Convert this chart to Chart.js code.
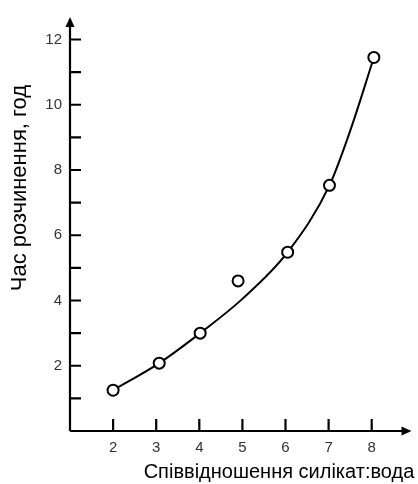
<!DOCTYPE html>
<html>
<head>
<meta charset="utf-8">
<script src="https://cdn.jsdelivr.net/npm/chart.js@4/dist/chart.umd.min.js"></script>
<style>
html,body{margin:0;padding:0;background:#fff;}
#c{display:block;}
</style>
</head>
<body>
<canvas id="c" width="418" height="484"></canvas>
<script>
// Data
const pointX = [2, 3.07, 4.02, 4.9, 6.05, 7.02, 8.05];
const pointY = [1.25, 2.08, 3.0, 4.6, 5.48, 7.53, 11.45];
const curveX = [2, 3.07, 4.02, 5, 6.05, 7.02, 7.5, 8.05];
const curveY = [1.25, 2.08, 3.0, 4.05, 5.48, 7.53, 9.2, 11.45];
const xTickLabels = [2, 3, 4, 5, 6, 7, 8];
const yTickLabels = [2, 4, 6, 8, 10, 12];
const yMinorTicks = [1, 2, 3, 4, 5, 6, 7, 8, 9, 10, 11, 12];
const xTitle = 'Співвідношення силікат:вода';
const yTitle = 'Час розчинення, год';

const toXY = (xs, ys) => xs.map((x, i) => ({x: x, y: ys[i]}));

const axisPlugin = {
  id: 'axisDeco',
  afterDraw(chart) {
    const ctx = chart.ctx;
    const xs = chart.scales.x, ys = chart.scales.y;
    const a = chart.chartArea;
    const x0 = xs.getPixelForValue(1);
    const y0 = ys.getPixelForValue(0);
    ctx.save();
    ctx.strokeStyle = '#000';
    ctx.fillStyle = '#000';
    ctx.lineWidth = 2.2;
    // axis lines
    ctx.beginPath();
    ctx.moveTo(x0, y0);
    ctx.lineTo(x0, a.top + 6);
    ctx.moveTo(x0, y0);
    ctx.lineTo(a.right - 6, y0);
    ctx.stroke();
    // ticks (inside)
    ctx.beginPath();
    yMinorTicks.forEach(v => {
      const p = ys.getPixelForValue(v);
      ctx.moveTo(x0, p);
      ctx.lineTo(x0 + 11, p);
    });
    xTickLabels.forEach(v => {
      const p = xs.getPixelForValue(v);
      ctx.moveTo(p, y0);
      ctx.lineTo(p, y0 - 12);
    });
    ctx.stroke();
    // arrows
    ctx.beginPath();
    ctx.moveTo(x0, a.top);
    ctx.lineTo(x0 - 4.5, a.top + 10);
    ctx.lineTo(x0 + 4.5, a.top + 10);
    ctx.closePath();
    ctx.fill();
    ctx.beginPath();
    ctx.moveTo(a.right + 1, y0);
    ctx.lineTo(a.right - 9, y0 - 4.5);
    ctx.lineTo(a.right - 9, y0 + 4.5);
    ctx.closePath();
    ctx.fill();
    // titles
    ctx.fillStyle = '#000';
    ctx.textAlign = 'center';
    ctx.textBaseline = 'alphabetic';
    ctx.font = '20px "Liberation Sans", Arial, sans-serif';
    ctx.fillText(xTitle, 279, 478);
    ctx.font = '22px "Liberation Sans", Arial, sans-serif';
    ctx.translate(26, 188);
    ctx.rotate(-Math.PI / 2);
    ctx.fillText(yTitle, 0, 0);
    ctx.restore();
  }
};

new Chart(document.getElementById('c'), {
  type: 'scatter',
  data: {
    datasets: [
      {
        type: 'line',
        data: toXY(curveX, curveY),
        borderColor: '#000',
        borderWidth: 2,
        pointRadius: 0,
        fill: false,
        cubicInterpolationMode: 'monotone',
        order: 2
      },
      {
        data: toXY(pointX, pointY),
        backgroundColor: '#fff',
        borderColor: '#000',
        borderWidth: 2,
        pointRadius: 5.5,
        order: 1
      }
    ]
  },
  options: {
    responsive: false,
    animation: false,
    events: [],
    layout: {padding: {left: 0, right: 6, top: 10, bottom: 0}},
    plugins: {legend: {display: false}, tooltip: {enabled: false}},
    scales: {
      x: {
        type: 'linear',
        min: 1,
        max: 8.9,
        afterBuildTicks: s => { s.ticks = xTickLabels.map(v => ({value: v})); },
        afterFit: s => { s.height = 53; },
        grid: {display: false, drawTicks: false},
        border: {display: false},
        ticks: {
          color: '#333',
          font: {family: '"Liberation Sans", Arial, sans-serif', size: 15},
          padding: 8,
          autoSkip: false,
          maxRotation: 0
        }
      },
      y: {
        type: 'linear',
        min: 0,
        max: 12.69,
        afterBuildTicks: s => { s.ticks = yTickLabels.map(v => ({value: v})); },
        afterFit: s => { s.width = 70; },
        grid: {display: false, drawTicks: false},
        border: {display: false},
        ticks: {
          color: '#333',
          font: {family: '"Liberation Sans", Arial, sans-serif', size: 15},
          padding: 8,
          autoSkip: false
        }
      }
    }
  },
  plugins: [axisPlugin]
});
</script>
</body>
</html>
